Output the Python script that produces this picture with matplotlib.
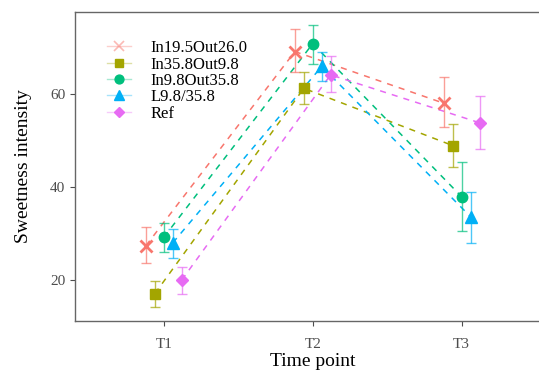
import matplotlib
matplotlib.use("Agg")
import matplotlib.pyplot as plt
from matplotlib.lines import Line2D
import numpy as np

# values
time_points = ["T1", "T2", "T3"]
groups = ["In19.5Out26.0", "In35.8Out9.8", "In9.8Out35.8", "L9.8/35.8", "Ref"]

mean_in195 = [27.4, 69.1, 58.0]
lo_in195 = [23.7, 64.8, 52.8]
hi_in195 = [31.5, 73.9, 63.6]

mean_in358 = [17.1, 61.2, 48.9]
lo_in358 = [14.3, 57.8, 44.2]
hi_in358 = [19.7, 64.8, 53.5]

mean_in98 = [29.2, 70.8, 37.9]
lo_in98 = [26.0, 66.4, 30.5]
hi_in98 = [32.3, 74.7, 45.3]

mean_l98 = [28.0, 65.9, 33.6]
lo_l98 = [24.7, 62.8, 27.9]
hi_l98 = [31.0, 69.0, 39.0]

mean_ref = [20.0, 64.1, 53.8]
lo_ref = [16.9, 60.4, 48.2]
hi_ref = [22.9, 68.2, 59.6]

means = [mean_in195, mean_in358, mean_in98, mean_l98, mean_ref]
lows = [lo_in195, lo_in358, lo_in98, lo_l98, lo_ref]
highs = [hi_in195, hi_in358, hi_in98, hi_l98, hi_ref]

colors = ["#F8766D", "#A3A500", "#00BF7D", "#00B0F6", "#E76BF3"]
markers = ["x", "s", "o", "^", "D"]
msizes = [9, 7.5, 7.5, 8.5, 6]
dodge = [-0.12, -0.06, 0.0, 0.06, 0.12]

plt.rcParams["font.family"] = ["Liberation Serif", "DejaVu Serif"]

fig = plt.figure(figsize=(5.39, 3.73), dpi=100)
ax = fig.add_axes([74.5 / 539, 52 / 373, 476.5 / 539, 309 / 373])

x = np.arange(1, len(time_points) + 1)
handles = []
for i, g in enumerate(groups):
    xs = x + dodge[i]
    m = np.array(means[i])
    lo = m - np.array(lows[i])
    hi = np.array(highs[i]) - m
    ax.plot(xs, m, color=colors[i], lw=1.1, dashes=(4, 4), zorder=2)
    ax.errorbar(xs, m, yerr=[lo, hi], fmt="none", ecolor=colors[i],
                elinewidth=1.0, capsize=3.5, capthick=1.0, alpha=0.7, zorder=3)
    mew = 2.0 if markers[i] == "x" else 1.0
    ax.plot(xs, m, linestyle="none", marker=markers[i], ms=msizes[i],
            color=colors[i], mew=mew, zorder=4)
    bg = Line2D([], [], color=colors[i], lw=1.0, alpha=0.35)
    mk = Line2D([], [], linestyle="none", marker=markers[i],
                ms=msizes[i] * 0.85, color=colors[i],
                mew=1.2 if markers[i] == "x" else 1.0,
                alpha=0.5 if markers[i] == "x" else 1.0)
    handles.append((bg, mk))

ax.set_xlim(0.4, 3.6)
ax.set_ylim(11.2, 77.6)
ax.set_xticks(x)
ax.set_xticklabels(time_points)
ax.set_yticks([20, 40, 60])
ax.tick_params(colors="#4D4D4D", labelsize=11, length=3.5, width=0.8,
               direction="out", pad=9)
ax.tick_params(axis="y", pad=3)
for s in ax.spines.values():
    s.set_color("#666666")
    s.set_linewidth(1.0)

ax.set_xlabel("Time point", fontsize=14, labelpad=1)
ax.set_ylabel("Sweetness intensity", fontsize=14, labelpad=13)

ax.legend(handles, groups, loc="upper left", bbox_to_anchor=(0.055, 0.93),
          frameon=False, fontsize=12, handlelength=1.4, handletextpad=1.2,
          labelspacing=0.02, borderaxespad=0)

fig.savefig("out.png", dpi=100)
plt.close(fig)
